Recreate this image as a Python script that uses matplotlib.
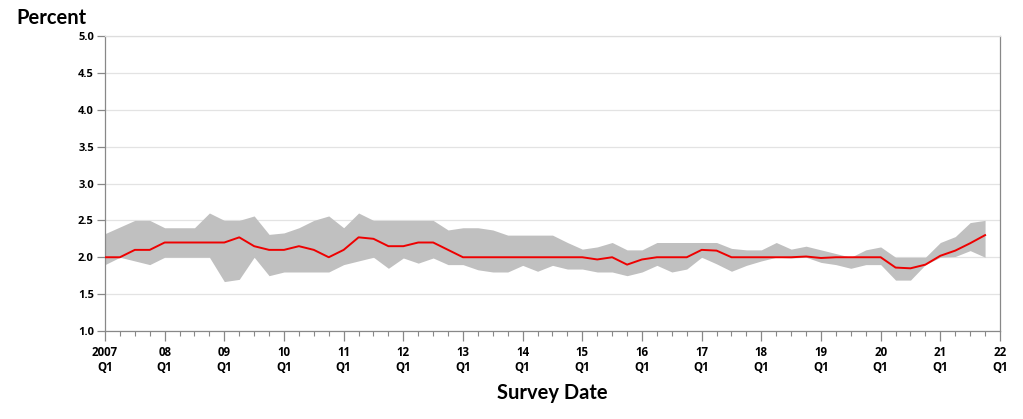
import matplotlib
matplotlib.use("Agg")
import matplotlib.pyplot as plt
import numpy as np

# Quarterly survey data, 2007 Q1 .. 2021 Q4
years = list(range(2007, 2022))
median = [2.0, 2.0, 2.1, 2.1, 2.2, 2.2, 2.2, 2.2, 2.2, 2.27, 2.15, 2.1,
          2.1, 2.15, 2.1, 2.0, 2.1, 2.27, 2.25, 2.15, 2.15, 2.2, 2.2, 2.1,
          2.0, 2.0, 2.0, 2.0, 2.0, 2.0, 2.0, 2.0, 2.0, 1.97, 2.0, 1.9,
          1.97, 2.0, 2.0, 2.0, 2.1, 2.09, 2.0, 2.0, 2.0, 2.0, 2.0, 2.01,
          1.99, 2.0, 2.0, 2.0, 2.0, 1.86, 1.85, 1.9, 2.02, 2.09, 2.19, 2.3]
upper = [2.32, 2.41, 2.5, 2.5, 2.4, 2.4, 2.4, 2.6, 2.5, 2.5, 2.56, 2.31,
         2.33, 2.4, 2.5, 2.56, 2.4, 2.6, 2.5, 2.5, 2.5, 2.5, 2.5, 2.37,
         2.4, 2.4, 2.37, 2.3, 2.3, 2.3, 2.3, 2.2, 2.11, 2.14, 2.2, 2.1,
         2.1, 2.2, 2.2, 2.2, 2.2, 2.2, 2.12, 2.1, 2.1, 2.2, 2.11, 2.15,
         2.1, 2.05, 2.0, 2.1, 2.14, 2.0, 2.0, 2.0, 2.2, 2.28, 2.47, 2.5]
lower = [1.9, 2.0, 1.95, 1.9, 2.0, 2.0, 2.0, 2.0, 1.67, 1.7, 2.0, 1.75,
         1.8, 1.8, 1.8, 1.8, 1.9, 1.95, 2.0, 1.85, 1.99, 1.92, 1.99, 1.9,
         1.9, 1.83, 1.8, 1.8, 1.89, 1.81, 1.89, 1.84, 1.84, 1.8, 1.8, 1.75,
         1.8, 1.89, 1.8, 1.84, 2.0, 1.91, 1.81, 1.89, 1.95, 2.0, 1.99, 2.0,
         1.93, 1.9, 1.85, 1.9, 1.9, 1.69, 1.69, 1.9, 2.0, 2.01, 2.09, 2.0]
y_ticks = [1.0, 1.5, 2.0, 2.5, 3.0, 3.5, 4.0, 4.5, 5.0]
x_tick_labels = ["2007\nQ1"] + [f"{y % 100:02d}\nQ1" for y in range(2008, 2023)]

n = len(median)
t = 2007 + np.arange(n) / 4.0

fig = plt.figure(figsize=(10.23, 4.19), dpi=100)
ax = fig.add_axes([105 / 1023, 1 - 331 / 419, 895 / 1023, 295 / 419])

ax.fill_between(t, lower, upper, color="#c0c0c0", linewidth=0, zorder=2)
ax.plot(t, median, color="#ee0000", linewidth=1.4, zorder=3)

ax.set_xlim(2007, 2022)
ax.set_ylim(1.0, 5.0)
ax.set_yticks(y_ticks)
ax.set_yticklabels([f"{v:.1f}" for v in y_ticks], fontsize=8, fontweight="bold",
                   family="Open Sans")
ax.grid(axis="y", color="#e3e3e3", linewidth=0.9, zorder=0)
ax.set_axisbelow(True)

major = list(range(2007, 2023))
ax.set_xticks(major)
ax.set_xticklabels(x_tick_labels, fontsize=8.3, fontweight="bold", family="Open Sans",
                   linespacing=1.2)
ax.set_xticks(2007 + np.arange(0, 61) / 4.0, minor=True)
ax.tick_params(axis="x", which="major", length=7, width=0.9, color="#888888",
               direction="out", pad=3.5)
ax.tick_params(axis="x", which="minor", length=3.5, width=0.8, color="#888888",
               direction="out")
ax.tick_params(axis="y", which="major", length=6, width=0.9, color="#888888",
               direction="out", pad=2)

for s in ["left", "right", "bottom"]:
    ax.spines[s].set_color("#888888")
    ax.spines[s].set_linewidth(0.9)
ax.spines["top"].set_color("#dddddd")
ax.spines["top"].set_linewidth(0.9)

fig.text(16 / 1023, 1 - 18 / 419, "Percent", fontsize=14.5, fontweight="bold",
         family="Lato", va="center", ha="left")
fig.text(552 / 1023, 1 - 393 / 419, "Survey Date", fontsize=14.5, fontweight="bold",
         family="Lato", va="center", ha="center")

fig.savefig("out.png", dpi=100)
